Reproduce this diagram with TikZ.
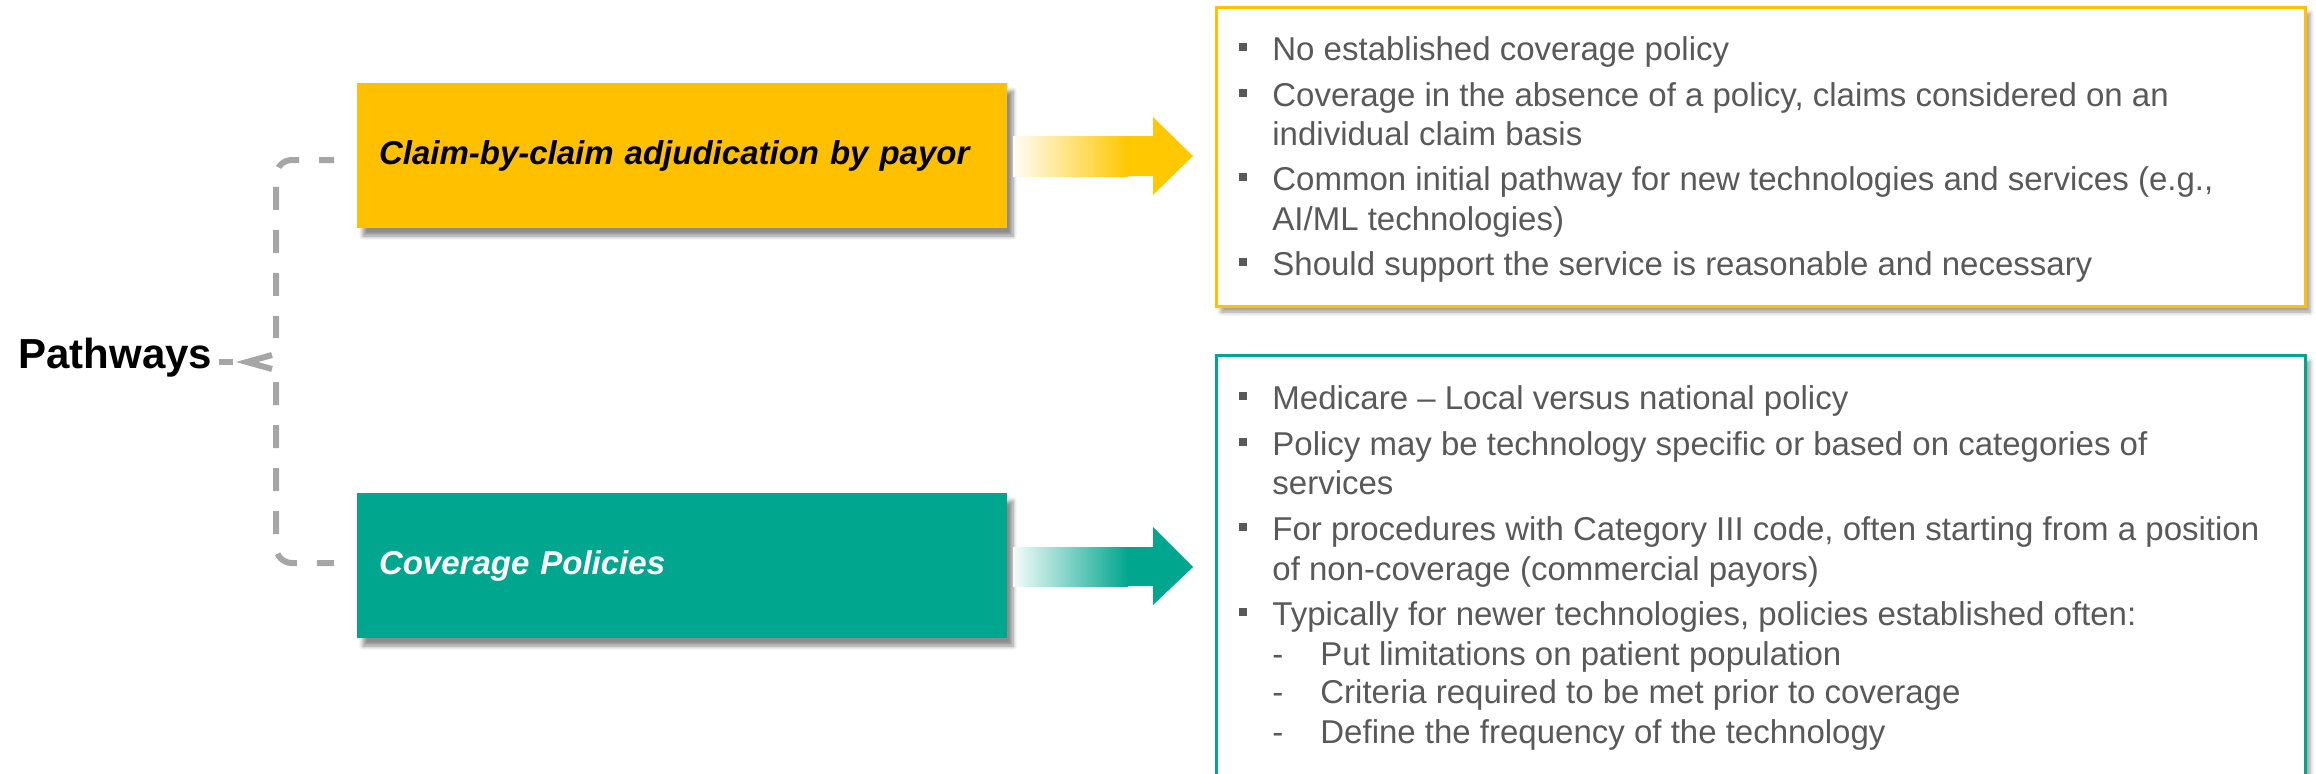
\documentclass[tikz,border=0pt]{standalone}
\usepackage{fontspec}
\setmainfont{Liberation Sans}
\usetikzlibrary{shadows.blur,calc}
\definecolor{ygold}{HTML}{FFC000}
\definecolor{yarrow}{HTML}{FFC800}
\definecolor{tgreen}{HTML}{00A78E}
\definecolor{txtgray}{HTML}{595959}
\definecolor{dashgray}{HTML}{A6A6A6}
\tikzset{
  pbox/.style={minimum width=325pt, minimum height=72.5pt, inner xsep=11pt,
    text width=303pt, align=left,
    font=\fontsize{16.5}{20}\selectfont\bfseries\itshape,
    blur shadow={shadow xshift=3pt, shadow yshift=-4pt, shadow blur steps=6, shadow opacity=45}},
  tline/.style={anchor=base west, inner sep=0pt, text=txtgray,
    font=\fontsize{16.5}{20}\selectfont},
  bracepath/.style={draw=dashgray, line width=3pt, dash pattern=on 11.5pt off 10pt},
  infobox/.style={line width=1.5pt, fill=white,
    blur shadow={shadow xshift=2.5pt, shadow yshift=-3pt, shadow blur steps=5, shadow opacity=40}},
}
\newcommand{\bul}[1]{\fill[txtgray] (1239,#1-17) rectangle (1247,#1-9);}
\begin{document}
\begin{tikzpicture}[x=0.5pt,y=-0.5pt]
\useasboundingbox (0,0) rectangle (2316,773);

% info boxes
\draw[infobox, draw=ygold] (1216,7) rectangle (2305,306);
\draw[infobox, draw=tgreen] (1216,355) rectangle (2305,830);

% pathway boxes
\node[pbox, fill=ygold, text=black] (yb) at (682,155.5) {Claim-by-claim adjudication by payor};
\node[pbox, fill=tgreen, text=white] (tb) at (682,565.5) {Coverage Policies};

% Pathways label
\node[anchor=base west, inner sep=0pt, font=\fontsize{21}{25}\selectfont\bfseries] (pw) at (18,368) {Pathways};

% brace
\coordinate (tip) at (247,362);
\coordinate (ytop) at (334,160);
\coordinate (tbot) at (334,563);
\coordinate (up) at (272,355);
\coordinate (dn) at (272,369);
\draw[bracepath, rounded corners=8pt, dash phase=4pt] (ytop) -- (276,160) -- (276,338);
\draw[bracepath, dash pattern=on 7pt off 30pt] (pw.east |- tip) ++(6,0) -- (tip);
\draw[draw=dashgray, line width=3pt, line join=miter] (up) -- (tip) -- (dn);
\draw[bracepath, rounded corners=8pt, dash phase=0pt] (276,382) -- (276,563) -- (tbot);

% arrows
\shade[left color=yarrow!4, right color=yarrow] (1013,136) rectangle (1128,176);
\fill[yarrow] (1127,136) -- (1153,136) -- (1153,117) -- (1193,156) -- (1153,195) -- (1153,176) -- (1127,176) -- cycle;
\shade[left color=tgreen!4, right color=tgreen] (1013,547) rectangle (1128,586);
\fill[tgreen] (1127,547) -- (1153,547) -- (1153,527) -- (1193,567) -- (1153,605) -- (1153,586) -- (1127,586) -- cycle;

% yellow text
\node[tline] (a1) at (1272,60) {No established coverage policy};
\node[tline] (a2) at (1272,106) {Coverage in the absence of a policy, claims considered on an};
\node[tline] (a3) at (1272,145) {individual claim basis};
\node[tline] (a4) at (1272,190) {Common initial pathway for new technologies and services (e.g.,};
\node[tline] (a5) at (1272,230) {AI/ML technologies)};
\node[tline] (a6) at (1272,275) {Should support the service is reasonable and necessary};
\bul{60}\bul{106}\bul{190}\bul{275}

% teal text
\node[tline] (b1) at (1272,409) {Medicare – Local versus national policy};
\node[tline] (b2) at (1272,455) {Policy may be technology specific or based on categories of};
\node[tline] (b3) at (1272,494) {services};
\node[tline] (b4) at (1272,540) {For procedures with Category III code, often starting from a position};
\node[tline] (b5) at (1272,580) {of non-coverage (commercial payors)};
\node[tline] (b6) at (1272,625) {Typically for newer technologies, policies established often:};
\bul{409}\bul{455}\bul{540}\bul{625}
\node[tline] (c1d) at (1272,665) {-};
\node[tline] (c1) at (1320,665) {Put limitations on patient population};
\node[tline] (c2d) at (1272,703) {-};
\node[tline] (c2) at (1320,703) {Criteria required to be met prior to coverage};
\node[tline] (c3d) at (1272,743) {-};
\node[tline] (c3) at (1320,743) {Define the frequency of the technology};
\end{tikzpicture}
\end{document}
